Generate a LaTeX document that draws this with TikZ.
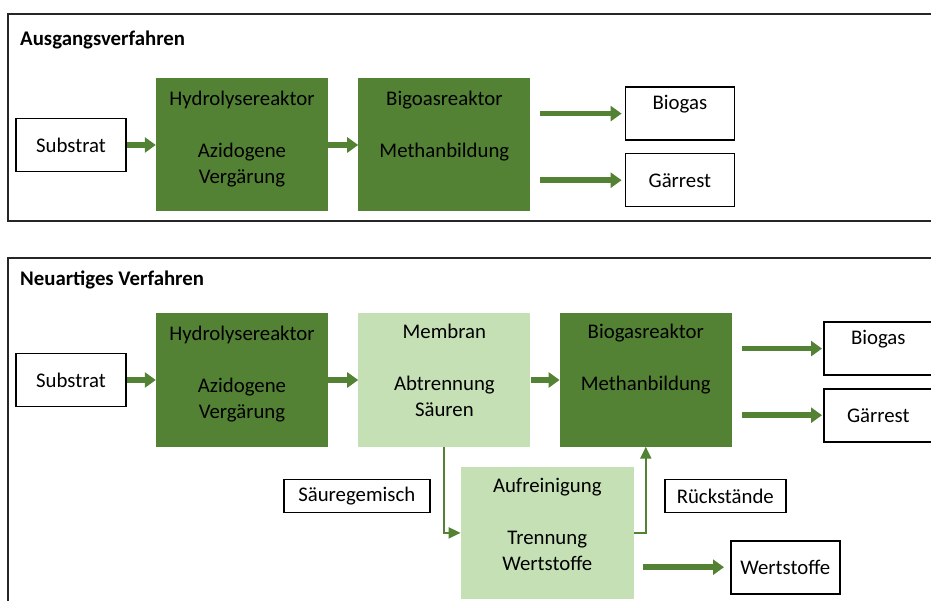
\documentclass[tikz,border=0pt]{standalone}
\usepackage{fontspec}
\setmainfont{Carlito}
\usepackage{xcolor}
\usetikzlibrary{positioning,arrows.meta}
\definecolor{dunkelgruen}{HTML}{548235}
\definecolor{hellgruen}{HTML}{C5E0B4}

\begin{document}
\begin{tikzpicture}[
x=1pt, y=1pt,
font=\fontsize{20.8}{26}\selectfont,
panel/.style={draw=black!85, line width=1.8pt},
titel/.style={anchor=west, inner sep=0pt, font=\fontsize{20.8}{26}\selectfont\bfseries},
stoff/.style={rectangle, draw=black, line width=1.6pt, fill=white, minimum width=109pt, minimum height=53pt, inner sep=0pt},
etikett/.style={rectangle, draw=black, line width=1.6pt, fill=white, minimum height=33pt, inner sep=0pt},
reaktor/.style={rectangle, fill=dunkelgruen, minimum width=172pt, minimum height=133pt, inner sep=0pt},
stufe/.style={rectangle, fill=hellgruen, minimum width=172pt, minimum height=133pt, inner sep=0pt},
boxtext/.style={anchor=north, align=center, inner sep=0pt, yshift=-#1},
boxtext/.default=13pt,
pfeil/.style={draw=dunkelgruen, line width=5.5pt, -{Triangle[length=11pt, width=15pt]}},
duenn/.style={draw=dunkelgruen, line width=2pt, -{Triangle[length=12pt, width=11pt]}}
]
\useasboundingbox (0,0) rectangle (931,-601);

%Ausgangsverfahren
\draw[panel] (8,-14) rectangle (945,-221);
\node[titel] (titel1) at (20,-40) {Ausgangsverfahren};
\node[stoff, minimum width=110pt] (substrat1) at (71,-145) {Substrat};
\node[reaktor, right=29pt of substrat1, label={[boxtext]north:{Hydrolysereaktor\\[26pt]Azidogene\\Vergärung}}] (hydro1) {};
\node[reaktor, right=30pt of hydro1, label={[boxtext]north:{Bigoasreaktor\\[26pt]Methanbildung}}] (bigoas1) {};
\node[stoff, below right=8pt and 94pt of bigoas1.north east, label={[boxtext=9pt]north:Biogas}] (biogas1) {};
\node[stoff, below=12pt of biogas1] (gaerrest1) {Gärrest};

\draw[pfeil] (substrat1.east) -- (hydro1.west);
\draw[pfeil] (hydro1.east) -- (bigoas1.west);
\draw[pfeil, shorten <=9pt, shorten >=3pt] (bigoas1.east |- biogas1.west) -- (biogas1.west);
\draw[pfeil, shorten <=9pt, shorten >=3pt] (bigoas1.east |- gaerrest1.west) -- (gaerrest1.west);

%Neuartiges Verfahren
\draw[panel] (8,-258) rectangle (945,-620);
\node[titel] (titel2) at (20,-280) {Neuartiges Verfahren};
\node[stoff, minimum width=110pt] (substrat2) at (71,-380) {Substrat};
\node[reaktor, right=29pt of substrat2, label={[boxtext]north:{Hydrolysereaktor\\[26pt]Azidogene\\Vergärung}}] (hydro2) {};
\node[stufe, right=30pt of hydro2, label={[boxtext=11pt]north:{Membran\\[26pt]Abtrennung\\Säuren}}] (membran) {};
\node[reaktor, right=29pt of membran, label={[boxtext=11pt]north:{Biogasreaktor\\[26pt]Methanbildung}}] (bioreak) {};
\node[stoff, below right=8pt and 91pt of bioreak.north east, label={[boxtext=9pt]north:Biogas}] (biogas2) {};
\node[stoff, below=12pt of biogas2] (gaerrest2) {Gärrest};
\node[stufe, minimum width=173pt, minimum height=132pt, below right=20pt and -70pt of membran.south east, label={[boxtext=11pt]north:{Aufreinigung\\[26pt]Trennung\\Wertstoffe}}] (aufr) {};
\node[etikett, minimum width=146pt, below left=12pt and 30pt of aufr.north west] (saeure) {Säuregemisch};
\node[etikett, minimum width=121pt, below right=12pt and 30pt of aufr.north east] (rueck) {Rückstände};
\node[stoff, below right=7pt and 96pt of aufr.east] (wertst) {Wertstoffe};

\draw[pfeil] (substrat2.east) -- (hydro2.west);
\draw[pfeil] (hydro2.east) -- (membran.west);
\draw[pfeil] (membran.east) -- (bioreak.west);
\draw[pfeil, shorten <=10pt, shorten >=1pt] (bioreak.east |- biogas2.west) -- (biogas2.west);
\draw[pfeil, shorten <=10pt, shorten >=1pt] (bioreak.east |- gaerrest2.west) -- (gaerrest2.west);
\draw[pfeil, shorten <=9pt, shorten >=6pt] (aufr.east |- wertst.west) -- (wertst.west);

\draw[duenn] (membran.south) |- (aufr.west);
\draw[duenn] (aufr.east) -| (bioreak.south);
\end{tikzpicture}
\end{document}
